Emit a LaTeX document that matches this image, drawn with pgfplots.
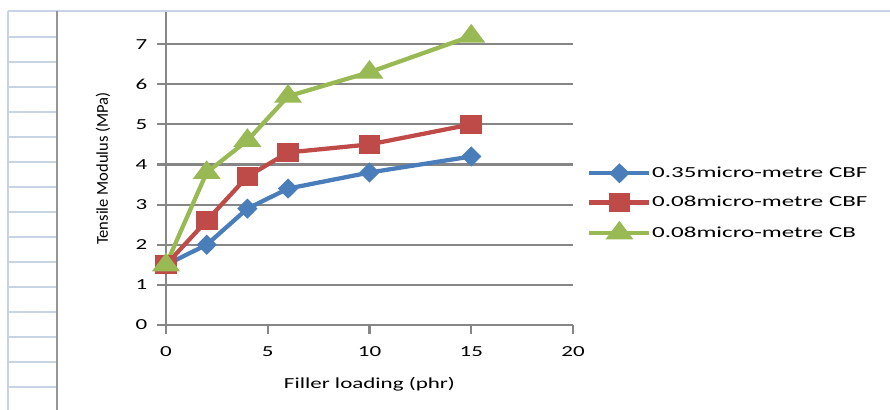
\documentclass[border=0pt]{standalone}
\usepackage{fontspec}
\setmainfont{Carlito}
\newfontfamily\widefont{Carlito}[FakeStretch=1.5]
\newfontfamily\legfont{Carlito}[FakeStretch=1.63]
\usepackage{pgfplots}
\pgfplotsset{compat=1.18}
\definecolor{sblue}{RGB}{74,126,187}
\definecolor{sred}{RGB}{190,75,72}
\definecolor{sgreen}{RGB}{152,185,84}
\definecolor{axgray}{RGB}{134,134,134}
\definecolor{cellblue}{RGB}{200,212,227}
\definecolor{vgray}{RGB}{150,150,150}
\begin{document}
\begin{tikzpicture}
\path[use as bounding box] (0pt,0pt) rectangle (667.5pt,307.5pt);
\begin{scope}[x=0.75pt,y=0.75pt]
  % spreadsheet background
  \draw[cellblue, line width=1.2pt] (8,399) -- (890,399);
  \draw[cellblue, line width=1.2pt] (8,399) -- (8,0);
  \foreach \py in {37,62,...,387} {\draw[cellblue, line width=1.2pt] (8,410-\py) -- (56,410-\py);}
  \draw[vgray, line width=1.6pt] (57,399) -- (57,0);
\end{scope}
\begin{axis}[
  at={(124.5pt,63.75pt)}, anchor=south west,
  scale only axis, width=305.25pt, height=234.75pt,
  xmin=0, xmax=20, ymin=0, ymax=7.8,
  xtick={0,5,10,15,20}, ytick={0,1,...,7},
  axis lines=left,
  axis line style={-, draw=axgray, line width=1.6pt},
  tick align=outside, major tick length=6.5pt,
  tick style={draw=axgray, line width=1.6pt},
  ymajorgrids, grid style={draw=axgray, line width=1.6pt},
  /pgf/number format/assume math mode=true,
  ticklabel style={font=\widefont\fontsize{11.5}{13}\selectfont},
  yticklabel style={xshift=-4pt},
  xticklabel style={yshift=-6pt},
  every axis x label/.style={at={(axis description cs:0.5,0)}, anchor=center, yshift=-44.25pt, font=\widefont\fontsize{11.5}{13}\selectfont},
  every axis y label/.style={at={(axis description cs:0,0.5)}, xshift=-47.25pt, rotate=90, anchor=center, font=\fontsize{12.4}{14}\selectfont},
  xlabel={Filler loading (phr)},
  ylabel={Tensile Modulus (MPa)},
  clip=false,
  legend style={at={(axis description cs:1.0246,0.5185)}, anchor=north west, draw=none, fill=none,
    font=\legfont\fontsize{11.5}{13}\selectfont, row sep=10.6pt,
    nodes={inner xsep=0.5pt, inner ysep=1pt}},
  legend cell align=left,
  legend image code/.code={\draw[mark repeat=2,mark phase=2,#1] plot coordinates {(0pt,0pt) (22.5pt,0pt) (45pt,0pt)};},
]
\addplot[sblue, line width=3.2pt, mark=diamond*, mark size=5.3pt, mark options={xscale=1.35, solid}] coordinates {(0,1.5) (2,2.0) (4,2.9) (6,3.4) (10,3.8) (15,4.2)};
\addlegendentry{0.35micro-metre CBF}
\addplot[sred, line width=3.2pt, mark=square*, mark size=5.6pt, mark options={xscale=1.17, solid}] coordinates {(0,1.5) (2,2.6) (4,3.7) (6,4.3) (10,4.5) (15,5.0)};
\addlegendentry{0.08micro-metre CBF}
\addplot[sgreen, line width=3.2pt, mark=triangle*, mark size=6.5pt, mark options={xscale=1.3, solid}] coordinates {(0,1.5) (2,3.8) (4,4.6) (6,5.7) (10,6.3) (15,7.2)};
\addlegendentry{0.08micro-metre CB}
\end{axis}
\end{tikzpicture}
\end{document}
